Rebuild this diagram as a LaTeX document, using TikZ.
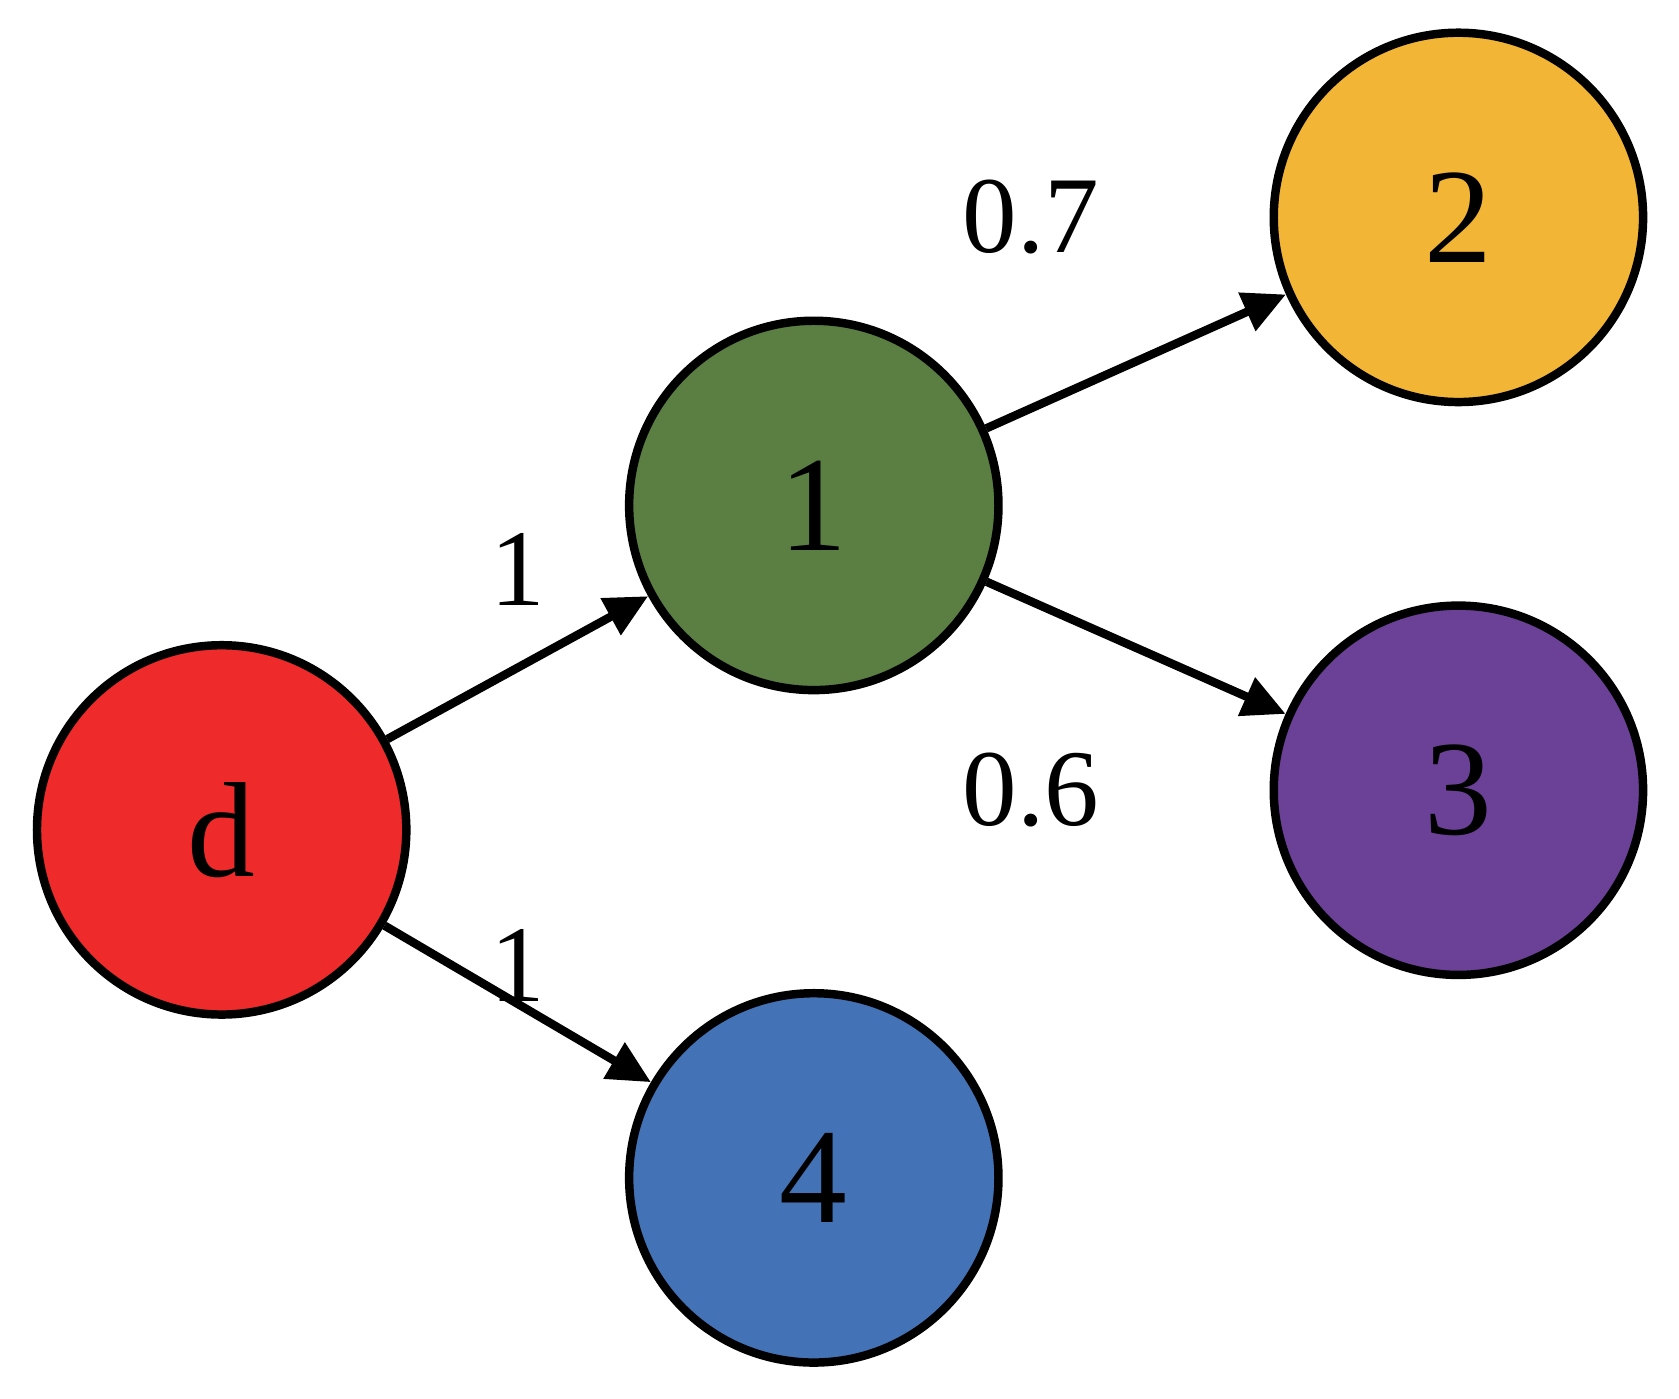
\documentclass[tikz,border=0pt]{standalone}
\usepackage{fontspec}
\setmainfont{Liberation Serif}
\usetikzlibrary{arrows.meta}
\definecolor{cd}{HTML}{EE2A2A}
\definecolor{c1}{HTML}{5B7F43}
\definecolor{c2}{HTML}{F2B535}
\definecolor{c3}{HTML}{6A4196}
\definecolor{c4}{HTML}{4373B6}
\tikzset{nd/.style={circle,draw=black,line width=4.5pt,minimum size=6.9cm,inner sep=0pt,font=\fontsize{72}{72}\selectfont},
ed/.style={line width=4.5pt,-{Triangle[length=0.8cm,width=0.75cm]}},
lb/.style={font=\fontsize{58}{58}\selectfont}}
\begin{document}
\begin{tikzpicture}[x=0.02cm,y=-0.02cm]
\useasboundingbox (0,0) rectangle (1568,1306);
\node[nd,fill=cd] (d) at (207,775) {d};
\node[nd,fill=c1] (n1) at (760,472) {1};
\node[nd,fill=c2] (n2) at (1362,203) {2};
\node[nd,fill=c3] (n3) at (1362,738) {3};
\node[nd,fill=c4] (n4) at (760,1100) {4};
\draw[ed] (d) -- (n1);
\draw[ed] (d) -- (n4);
\draw[ed] (n1) -- (n2);
\draw[ed] (n1) -- (n3);
\node[lb] (l1) at (484,532) {1};
\node[lb] (l2) at (484,902) {1};
\node[lb] (l3) at (963,203) {0.7};
\node[lb] (l4) at (963,738) {0.6};
\end{tikzpicture}
\end{document}
